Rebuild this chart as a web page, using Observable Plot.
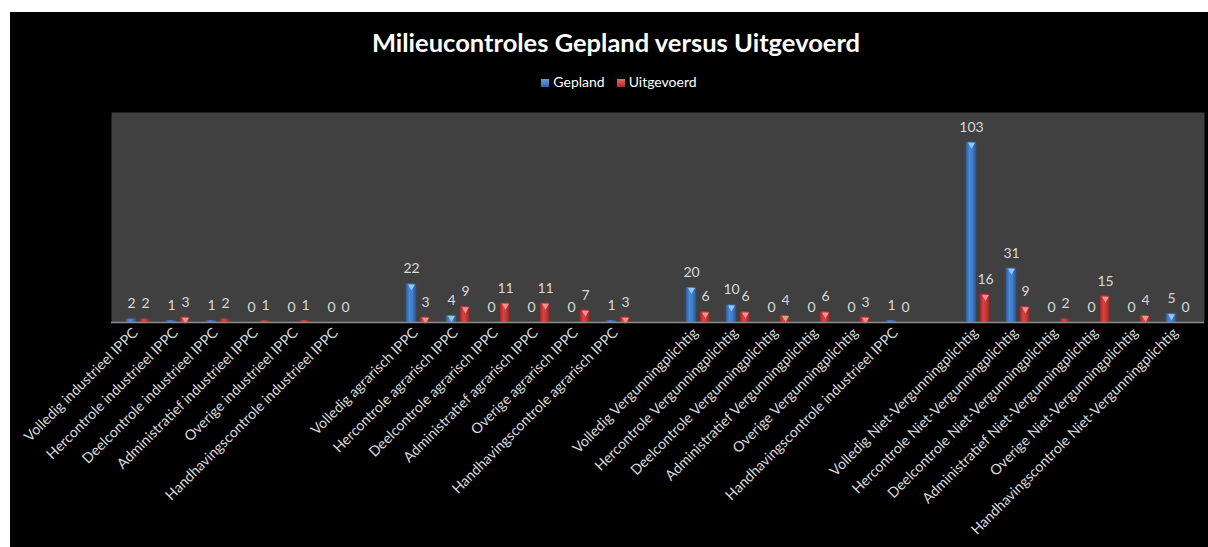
<!DOCTYPE html>
<html><head><meta charset="utf-8">
<script src="https://cdn.jsdelivr.net/npm/d3@7"></script>
<script src="https://cdn.jsdelivr.net/npm/@observablehq/plot@0.6"></script>
<style>
html,body{margin:0;padding:0;background:#fff;}
#chart{position:absolute;left:10px;top:12px;width:1198px;height:535px;background:#000;overflow:hidden;font-family:Lato,"Open Sans",sans-serif;}
#title{position:absolute;left:0;width:1212px;top:15px;line-height:30px;text-align:center;color:#fff;font-weight:bold;font-size:25.5px;}
#legend{position:absolute;left:0;width:1218px;top:61px;line-height:18px;text-align:center;color:#fff;font-size:14px;}
#legend span.sw{display:inline-block;width:8px;height:8px;margin-right:4px;vertical-align:0px;}
#legend span.item{margin:0 6px;}
#plot{position:absolute;left:0;top:88px;}
</style>
</head><body>
<div id="chart">
  <div id="title">Milieucontroles Gepland versus Uitgevoerd</div>
  <div id="legend"><span class="item"><span class="sw" style="background:linear-gradient(#6aa0e0,#2f66b0)"></span>Gepland</span><span class="item"><span class="sw" style="background:linear-gradient(#e86a6a,#b02828)"></span>Uitgevoerd</span></div>
  <div id="plot"></div>
</div>
<script>
const categories = [
  "Volledig industrieel IPPC","Hercontrole industrieel IPPC","Deelcontrole industrieel IPPC","Administratief industrieel IPPC","Overige industrieel IPPC","Handhavingscontrole industrieel IPPC",
  "",
  "Volledig agrarisch IPPC","Hercontrole agrarisch IPPC","Deelcontrole agrarisch IPPC","Administratief agrarisch IPPC","Overige agrarisch IPPC","Handhavingscontrole agrarisch IPPC",
  "",
  "Volledig Vergunningplichtig","Hercontrole Vergunningplichtig","Deelcontrole Vergunningplichtig","Administratief Vergunningplichtig","Overige Vergunningplichtig","Handhavingscontrole industrieel IPPC",
  "",
  "Volledig Niet-Vergunningplichtig","Hercontrole Niet-Vergunningplichtig","Deelcontrole Niet-Vergunningplichtig","Administratief Niet-Vergunningplichtig","Overige Niet-Vergunningplichtig","Handhavingscontrole Niet-Vergunningplichtig"
];
const gepland =    [2,1,1,0,0,0, null, 22,4,0,0,0,1, null, 20,10,0,0,0,1, null, 103,31,0,0,0,5];
const uitgevoerd = [2,3,2,1,1,0, null, 3,9,11,11,7,3, null, 6,6,4,6,3,0, null, 16,9,2,15,4,0];

const keys = categories.map((_, i) => String(i));
const data = categories.map((c, i) => ({key: String(i), label: c, gepland: gepland[i], uitgevoerd: uitgevoerd[i]}));
const valid = data.filter(d => d.gepland != null);

const bw = 1093 / 27;
const labelColor = "#d9d9d9";

const plot = Plot.plot({
  width: 1198,
  height: 447,
  marginTop: 12,
  marginBottom: 225,
  marginLeft: 101,
  marginRight: 4,
  style: {background: "transparent", fontFamily: "Lato, 'Open Sans', sans-serif"},
  x: {type: "band", domain: keys, padding: 0},
  y: {domain: [0, 120], axis: null},
  marks: [
    Plot.frame({fill: "#404040", stroke: null}),
    Plot.barY(valid, {x: "key", y: "gepland", fill: "url(#gBlue)", insetLeft: bw/2 - 12.5, insetRight: bw/2 + 1.5}),
    Plot.barY(valid, {x: "key", y: "uitgevoerd", fill: "url(#gRed)", insetLeft: bw/2 + 1.5, insetRight: bw/2 - 12}),
    Plot.dot(valid.filter(d => d.gepland >= 3), {x: "key", y: "gepland", dx: -7, dy: 2.5, symbol: "triangle", r: 2.6, rotate: 180, fill: "#9cc4f2", stroke: null}),
    Plot.dot(valid.filter(d => d.uitgevoerd >= 3), {x: "key", y: "uitgevoerd", dx: 7, dy: 2.5, symbol: "triangle", r: 2.6, rotate: 180, fill: "#f49090", stroke: null}),
    Plot.ruleY([0], {stroke: "#8c8c8c", strokeWidth: 1.5}),
    Plot.text(valid, {x: "key", y: "gepland", text: d => String(d.gepland), dx: -7, dy: -15, fill: labelColor, fontSize: 14}),
    Plot.text(valid, {x: "key", y: "uitgevoerd", text: d => String(d.uitgevoerd), dx: 7, dy: -15, fill: labelColor, fontSize: 14}),
    Plot.axisX({tickRotate: -45, tickSize: 0, tickPadding: 10, dx: -3, dy: -2, textAnchor: "end", tickFormat: k => categories[+k], fontSize: 14.3, fill: labelColor, label: null})
  ]
});

const defs = d3.select(plot).insert("defs", ":first-child");
function grad(id, stops) {
  const g = defs.append("linearGradient").attr("id", id).attr("x1", "0").attr("x2", "1").attr("y1", "0").attr("y2", "0");
  stops.forEach(([o, c]) => g.append("stop").attr("offset", o).attr("stop-color", c));
}
grad("gBlue", [["0%", "#2a5a9c"], ["35%", "#4a88d6"], ["65%", "#3f7cc8"], ["100%", "#24528f"]]);
grad("gRed", [["0%", "#9c2424"], ["35%", "#d84444"], ["65%", "#c83838"], ["100%", "#8e2020"]]);

document.getElementById("plot").appendChild(plot);
</script>
</body></html>
